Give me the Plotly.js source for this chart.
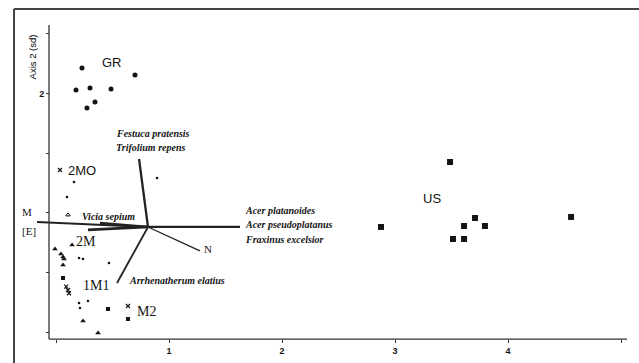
<!DOCTYPE html>
<html>
<head>
<meta charset="utf-8">
<script src="https://cdn.plot.ly/plotly-3.0.1.min.js"></script>
<style>html,body{margin:0;padding:0;background:#fff;}#chart{width:639px;height:363px;}</style>
</head>
<body>
<div id="chart"></div>
<script>
// ---- data (axis units, sd) ----
const grX = [0.230, 0.699, 0.177, 0.301, 0.487, 0.345, 0.274];
const grY = [2.215, 2.156, 2.030, 2.047, 2.039, 1.930, 1.879];

const usX = [3.487, 2.876, 3.708, 3.611, 3.796, 3.513, 3.611, 4.558];
const usY = [1.426, 0.881, 0.956, 0.889, 0.889, 0.780, 0.780, 0.965];

const triX = [0.142, -0.009, 0.044, 0.062, 0.071, 0.062, 0.239, 0.372];
const triY = [0.730, 0.696, 0.654, 0.629, 0.612, 0.562, 0.092, -0.008];

const sqX = [0.062, 0.460, 0.637];
const sqY = [0.453, 0.193, 0.109];

const dotX = [0.894, 0.159, 0.097, 0.204, 0.239, 0.469, 0.204, 0.283, 0.212];
const dotY = [1.292, 1.258, 1.133, 0.621, 0.612, 0.579, 0.243, 0.260, 0.201];

const crossX = [0.035, 0.106, 0.090, 0.115, 0.637];
const crossY = [1.359, 0.352, 0.380, 0.325, 0.218];

const smallTriX = [0.106];
const smallTriY = [0.982];

const groupNames = ["GR", "US", "2MO", "2M", "1M1", "M2"];
const groupLabX = [0.496, 3.327, 0.230, 0.261, 0.354, 0.805];
const groupLabY = [2.257, 1.124, 1.351, 0.755, 0.394, 0.168];
const groupSerif = [false, false, false, true, true, true];

// environmental / species vectors from a common origin
const vecOriginX = 0.814;
const vecOriginY = 0.881;
const vecEndX = [0.735, 1.628, 1.274, 0.540, -0.168, 0.283, 0.389];
const vecEndY = [1.451, 0.881, 0.680, 0.411, 0.923, 0.856, 0.914];
const vecWidth = [2.3, 2.2, 1.3, 1.8, 2.1, 2.8, 2.5];

const vecLabels = ["Festuca pratensis", "Trifolium repens", "Vicia sepium",
  "Acer platanoides", "Acer pseudoplatanus", "Fraxinus excelsior", "Arrhenatherum elatius"];
const vecLabX = [0.513, 0.513, 0.212, 1.655, 1.655, 1.655, 0.628];
const vecLabY = [1.661, 1.544, 0.973, 1.023, 0.898, 0.772, 0.436];

const letterLabels = ["N", "M", "[E]"];
const letterX = [1.345, -0.257, -0.239];
const letterY = [0.696, 1.005, 0.848];

const xTickVals = [0, 1, 2, 3, 4, 5];
const xTickText = ["", "1", "2", "3", "4", ""];
const yTickVals = [0, 0.5, 1, 1.5, 2, 2.5];
const yTickText = ["", "", "", "", "2", ""];

// ---- build ----
const ink = "#141414";
const traces = [];

for (let i = 0; i < vecEndX.length; i++) {
  traces.push({
    type: "scatter", mode: "lines",
    x: [vecOriginX, vecEndX[i]], y: [vecOriginY, vecEndY[i]],
    line: {color: "#222", width: vecWidth[i]},
    hoverinfo: "skip", showlegend: false
  });
}

traces.push({type: "scatter", mode: "markers", x: grX, y: grY,
  marker: {symbol: "circle", size: 5, color: ink}, showlegend: false});
traces.push({type: "scatter", mode: "markers", x: usX, y: usY,
  marker: {symbol: "square", size: 6, color: ink}, showlegend: false});
traces.push({type: "scatter", mode: "markers", x: triX, y: triY,
  marker: {symbol: "triangle-up", size: 5, color: ink}, showlegend: false});
traces.push({type: "scatter", mode: "markers", x: sqX, y: sqY,
  marker: {symbol: "square", size: 4, color: ink}, showlegend: false});
traces.push({type: "scatter", mode: "markers", x: dotX, y: dotY,
  marker: {symbol: "circle", size: 2.6, color: ink}, showlegend: false});
traces.push({type: "scatter", mode: "markers", x: crossX, y: crossY,
  marker: {symbol: "x-thin", size: 4, color: ink, line: {color: ink, width: 1.2}}, showlegend: false});
traces.push({type: "scatter", mode: "markers", x: smallTriX, y: smallTriY,
  marker: {symbol: "triangle-up-open", size: 4, color: ink, line: {color: ink, width: 1}}, showlegend: false});

const annotations = [];
for (let i = 0; i < groupNames.length; i++) {
  annotations.push({
    x: groupLabX[i], y: groupLabY[i], xref: "x", yref: "y",
    text: groupNames[i], showarrow: false, xanchor: "center", yanchor: "middle",
    font: {family: groupSerif[i] ? "Liberation Serif, serif" : "Liberation Sans, Arial, sans-serif",
           size: groupSerif[i] ? 14 : 13, color: ink}
  });
}
for (let i = 0; i < vecLabels.length; i++) {
  annotations.push({
    x: vecLabX[i], y: vecLabY[i], xref: "x", yref: "y",
    text: vecLabels[i], showarrow: false, xanchor: "left", yanchor: "middle",
    font: {family: "Liberation Serif, serif", size: 10, style: "italic", weight: "bold", color: ink}
  });
}
for (let i = 0; i < letterLabels.length; i++) {
  annotations.push({
    x: letterX[i], y: letterY[i], xref: "x", yref: "y",
    text: letterLabels[i], showarrow: false, xanchor: "center", yanchor: "middle",
    font: {family: "Liberation Serif, serif", size: 11, color: ink}
  });
}
annotations.push({x: 5.0, y: -0.19, xref: "x", yref: "y", text: "Axis 1 (sd)",
  showarrow: false, xanchor: "right", yanchor: "middle",
  font: {family: "Liberation Sans, Arial, sans-serif", size: 8, color: "#000"}});
annotations.push({x: -0.205, y: 2.31, xref: "x", yref: "y", text: "Axis 2 (sd)",
  showarrow: false, textangle: -90, xanchor: "center", yanchor: "middle",
  font: {family: "Liberation Sans, Arial, sans-serif", size: 9.5, color: "#000"}});

const shapes = [
  // axis lines
  {type: "line", xref: "x", yref: "y", x0: -0.062, x1: -0.062, y0: -0.059, y1: 2.576,
   line: {color: "#333", width: 1.3}},
  {type: "line", xref: "x", yref: "y", x0: -0.062, x1: 5.053, y0: -0.059, y1: -0.059,
   line: {color: "#333", width: 1.3}},
  // outer frame (top and left)
  {type: "line", xref: "paper", yref: "paper", x0: -0.0098, x1: 1.05, y0: 1.0338, y1: 1.0338,
   line: {color: "#444", width: 2}},
  {type: "line", xref: "paper", yref: "paper", x0: -0.0098, x1: -0.0098, y0: 1.0338, y1: -0.08,
   line: {color: "#444", width: 2}}
];

const layout = {
  width: 639, height: 363,
  margin: {l: 20, r: 9, t: 20, b: 18, pad: 0},
  paper_bgcolor: "#fff", plot_bgcolor: "#fff",
  showlegend: false,
  xaxis: {range: [-0.3186, 5.0796], showgrid: false, zeroline: false, showline: false,
    anchor: "free", position: 0.0185,
    tickmode: "array", tickvals: xTickVals, ticktext: xTickText,
    ticks: "outside", ticklen: 3, tickwidth: 1, tickcolor: "#333",
    tickfont: {family: "Liberation Sans, Arial, sans-serif", size: 9, weight: "bold", color: ink}},
  yaxis: {range: [-0.109, 2.617], showgrid: false, zeroline: false, showline: false,
    anchor: "free", position: 0.0475,
    tickmode: "array", tickvals: yTickVals, ticktext: yTickText,
    ticks: "outside", ticklen: 3, tickwidth: 1, tickcolor: "#333",
    tickfont: {family: "Liberation Sans, Arial, sans-serif", size: 9, weight: "bold", color: ink}},
  annotations: annotations,
  shapes: shapes
};

Plotly.newPlot("chart", traces, layout, {staticPlot: true, displayModeBar: false});
</script>
</body>
</html>
